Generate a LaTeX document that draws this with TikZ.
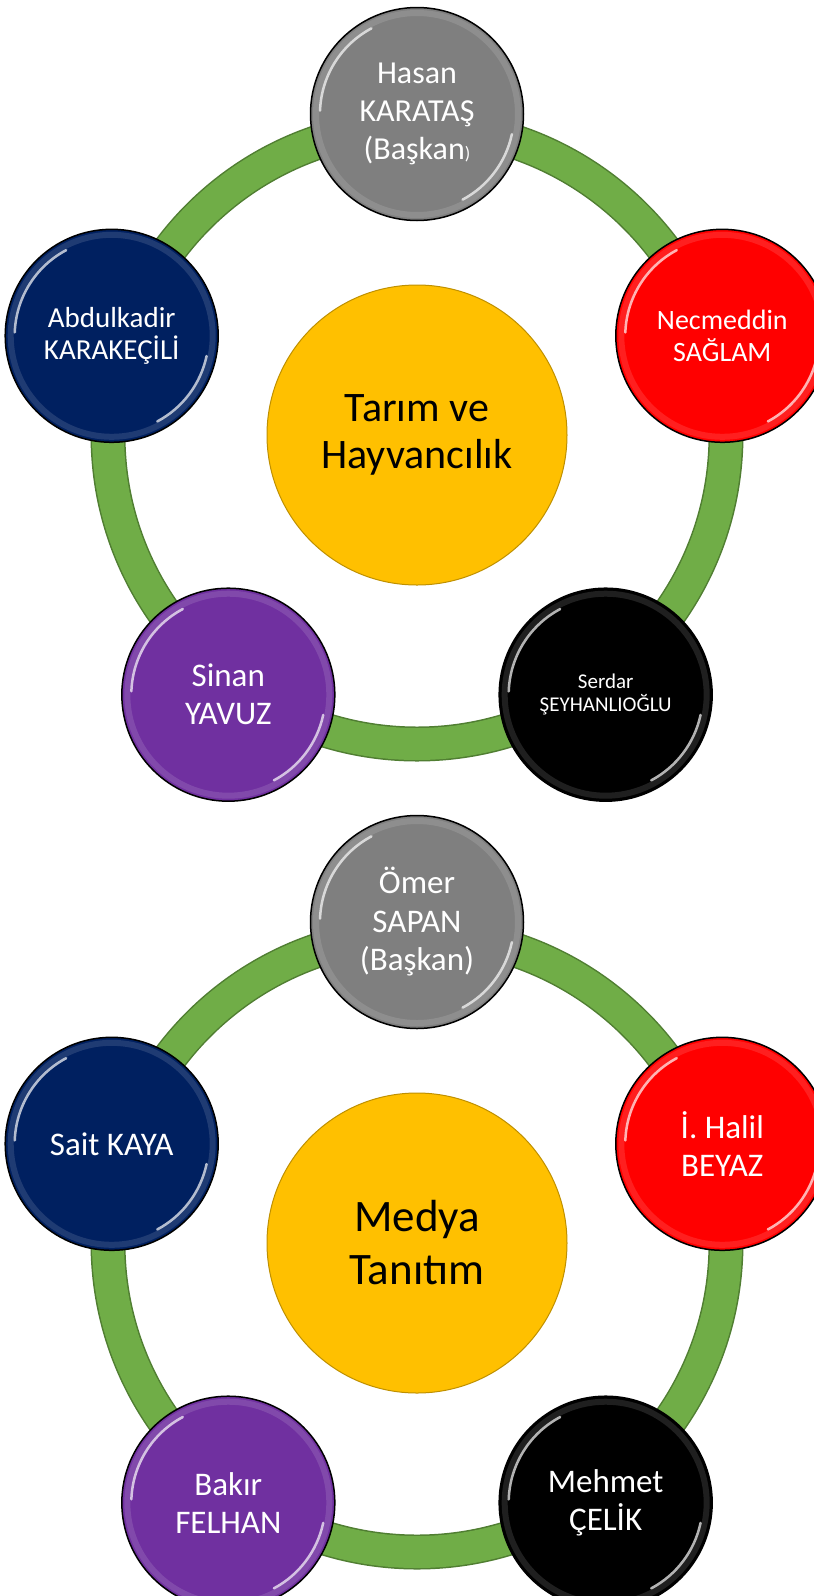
\documentclass[tikz,border=0pt]{standalone}
\usepackage{fontspec}
\setmainfont{Carlito}
\definecolor{ringgreen}{HTML}{70AD47}
\definecolor{ringedge}{HTML}{507E32}
\definecolor{hubgold}{HTML}{FFC000}
\definecolor{hubedge}{HTML}{BF9000}
\definecolor{memgray}{HTML}{7F7F7F}
\definecolor{memred}{HTML}{FF0000}
\definecolor{memnavy}{HTML}{002060}
\definecolor{mempurple}{HTML}{7030A0}
\definecolor{memblack}{HTML}{000000}

\begin{document}
\begin{tikzpicture}[x=1pt, y=1pt,
    hub/.style={circle, draw=hubedge, line width=1pt, fill=hubgold, minimum size=300pt, inner sep=0pt, align=center, text=black},
    member/.style={circle, draw=black, line width=1.5pt, minimum size=213pt, inner sep=0pt, align=center, text=white},
    rim/.style={white, opacity=0.12, line width=6pt},
    gloss/.style={white, line width=2.5pt, opacity=0.7, line cap=round}]
    \clip (0,0) rectangle (814,-1596);

    % Tarim ve Hayvancilik
    \begin{scope}[shift={(417,-435)}]
        \draw[ringedge, line width=35pt] (0,0) circle[radius=309pt];
        \draw[ringgreen, line width=32pt] (0,0) circle[radius=309pt];
        \node[hub, font=\fontsize{42}{47}\selectfont] (tarim) at (0,0) {Tarım ve\\Hayvancılık};
        \foreach \nm/\ang/\col/\fnt/\txt in {
            t1/90/memgray/{\fontsize{32}{37.7}\selectfont}/{Hasan\\KARATAŞ\\(Başkan{\fontsize{18}{18}\selectfont )}},
            t2/18/memred/{\fontsize{28}{32}\selectfont}/{Necmeddin\\SAĞLAM},
            t3/-54/memblack/{\fontsize{21}{23}\selectfont}/{Serdar\\ŞEYHANLIOĞLU},
            t4/-126/mempurple/{\fontsize{33}{38}\selectfont}/{Sinan\\YAVUZ},
            t5/162/memnavy/{\fontsize{29}{32}\selectfont}/{Abdulkadir\\KARAKEÇİLİ}} {
            \node[member, fill=\col, font=\fnt] (\nm) at (\ang:321) {\txt};
            \draw[rim] (\nm.center) circle[radius=101pt];
            \draw[gloss] (\nm.center) ++(118:97pt) arc[start angle=118, end angle=178, radius=97pt];
            \draw[gloss] (\nm.center) ++(-62:97pt) arc[start angle=-62, end angle=-12, radius=97pt];
        }
    \end{scope}

    % Medya Tanitim
    \begin{scope}[shift={(417,-1243)}]
        \draw[ringedge, line width=35pt] (0,0) circle[radius=309pt];
        \draw[ringgreen, line width=32pt] (0,0) circle[radius=309pt];
        \node[hub, font=\fontsize{45}{53}\selectfont] (medya) at (0,0) {Medya\\Tanıtım};
        \foreach \nm/\ang/\col/\fnt/\txt in {
            m1/90/memgray/{\fontsize{33}{38.5}\selectfont}/{Ömer\\SAPAN\\(Başkan)},
            m2/18/memred/{\fontsize{33}{38}\selectfont}/{İ. Halil\\BEYAZ},
            m3/-54/memblack/{\fontsize{33}{38}\selectfont}/{Mehmet\\ÇELİK},
            m4/-126/mempurple/{\fontsize{33}{38}\selectfont}/{Bakır\\FELHAN},
            m5/162/memnavy/{\fontsize{33}{38}\selectfont}/{Sait KAYA}} {
            \node[member, fill=\col, font=\fnt] (\nm) at (\ang:321) {\txt};
            \draw[rim] (\nm.center) circle[radius=101pt];
            \draw[gloss] (\nm.center) ++(118:97pt) arc[start angle=118, end angle=178, radius=97pt];
            \draw[gloss] (\nm.center) ++(-62:97pt) arc[start angle=-62, end angle=-12, radius=97pt];
        }
    \end{scope}
\end{tikzpicture}
\end{document}
